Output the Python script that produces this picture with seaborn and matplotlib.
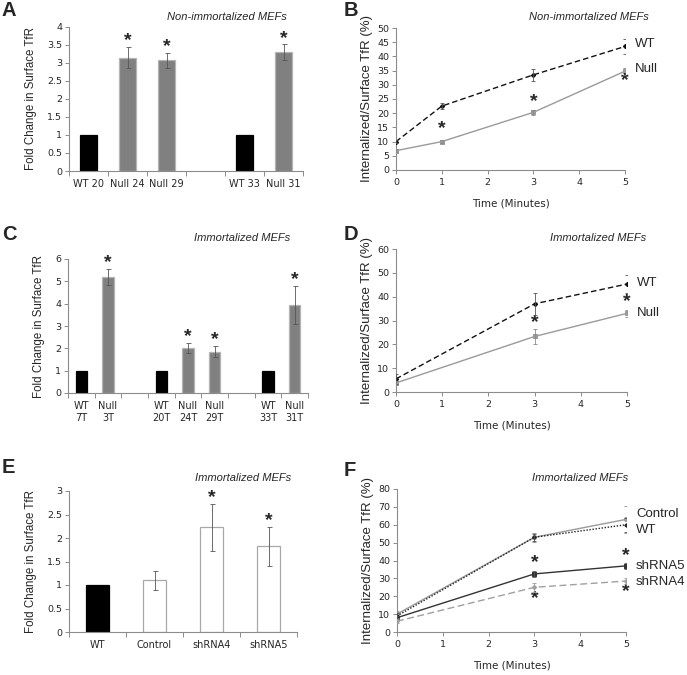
import numpy as np
import pandas as pd
import matplotlib
matplotlib.use("Agg")
import matplotlib.pyplot as plt
import seaborn as sns

# ---- data -------------------------------------------------------------
# Panel A: non-immortalized MEFs, surface TfR
a_order = ["WT 20", "Null 24", "Null 29", "", "WT 33", "Null 31"]
a_labels = ["WT 20", "Null 24", "Null 29", "WT 33", "Null 31"]
a_values = [1.0, 3.15, 3.07, 1.0, 3.3]
a_errors = [0.0, 0.30, 0.21, 0.0, 0.22]
a_star = [False, True, True, False, True]

# Panel B: internalization, non-immortalized
b_time = [0, 1, 3, 5]
b_wt = [10.0, 22.5, 33.5, 43.5]
b_wt_err = [0.5, 1.0, 2.2, 2.8]
b_null = [6.8, 10.0, 20.3, 34.8]
b_null_err = [0.5, 0.6, 1.0, 1.2]
b_star_x = [1, 3, 5]
b_star_y = [14.5, 24.0, 31.5]

# Panel C: immortalized MEFs, surface TfR
c_order = ["WT\n7T", "Null\n3T", " ", "WT\n20T", "Null\n24T", "Null\n29T", "  ",
           "WT\n33T", "Null\n31T"]
c_labels = ["WT\n7T", "Null\n3T", "WT\n20T", "Null\n24T", "Null\n29T", "WT\n33T", "Null\n31T"]
c_values = [1.0, 5.2, 1.0, 2.0, 1.85, 1.0, 3.95]
c_errors = [0.0, 0.36, 0.0, 0.22, 0.25, 0.0, 0.85]
c_star = [False, True, False, True, True, False, True]

# Panel D: internalization, immortalized
d_time = [0, 3, 5]
d_wt = [5.5, 37.0, 45.3]
d_wt_err = [2.0, 4.5, 3.7]
d_null = [3.8, 23.3, 33.0]
d_null_err = [1.0, 3.0, 1.5]
d_star_x = [3, 5]
d_star_y = [29.0, 37.8]

# Panel E: shRNA knockdown, surface TfR
e_labels = ["WT", "Control", "shRNA4", "shRNA5"]
e_values = [1.0, 1.1, 2.23, 1.82]
e_errors = [0.0, 0.2, 0.5, 0.41]
e_star = [False, False, True, True]

# Panel F: internalization, shRNA knockdown
f_time = [0, 3, 5]
f_control = [10.0, 53.0, 63.0]
f_control_err = [2.0, 2.5, 7.5]
f_wt = [9.0, 53.0, 60.0]
f_wt_err = [1.5, 2.0, 4.0]
f_sh5 = [8.0, 32.5, 37.0]
f_sh5_err = [1.0, 1.5, 1.5]
f_sh4 = [6.0, 25.0, 28.5]
f_sh4_err = [1.0, 2.5, 1.8]
f_star_x = [3, 3, 5, 5]
f_star_y = [38.7, 18.5, 42.5, 22.5]

# ---- style ------------------------------------------------------------
sns.set_style("white")
plt.rcParams["font.family"] = ["DejaVu Sans"]
LABEL_FONT = "Liberation Sans"
AXIS_COLOR = "#8c8c8c"
ERR_COLOR = "#555555"

fig = plt.figure(figsize=(6.87, 6.75), dpi=100)


def axes_px(left, top, right, bottom):
    W, H = 687, 675
    return fig.add_axes([left / W, 1 - bottom / H, (right - left) / W, (bottom - top) / H])


def style_axes(ax):
    sns.despine(ax=ax)
    for s in ("left", "bottom"):
        ax.spines[s].set_color(AXIS_COLOR)
        ax.spines[s].set_linewidth(0.8)
    ax.tick_params(axis="y", which="both", length=3, width=0.7, color=AXIS_COLOR,
                   labelsize=6.8, pad=2, direction="out", left=True)


def bar_panel(ax, order, labels, values, errors, stars, colors, edges, ymax, ystep, star_off):
    df = pd.DataFrame({"label": labels, "value": values})
    sns.barplot(data=df, x="label", y="value", order=order, hue="label",
                palette=dict(zip(labels, colors)), width=0.42, ax=ax, legend=False,
                errorbar=None, saturation=1)
    # edge colours per bar
    for lab, ec in zip(labels, edges):
        idx = order.index(lab)
        for p in ax.patches:
            if abs(p.get_x() + p.get_width() / 2 - idx) < 1e-6:
                p.set_edgecolor(ec)
                p.set_linewidth(0.9)
    for lab, v, e, st in zip(labels, values, errors, stars):
        idx = order.index(lab)
        if e > 0:
            ax.errorbar(idx, v, yerr=e, fmt="none", ecolor=ERR_COLOR, elinewidth=0.6,
                        capsize=1.8, capthick=0.6, zorder=5)
        if st:
            ax.text(idx, v + e + star_off, "*", ha="center", va="center",
                    fontsize=14, fontweight="bold", family=LABEL_FONT)
    n = len(order)
    ax.set_xlim(-0.5, n - 0.5)
    ax.set_ylim(0, ymax)
    ax.set_yticks(np.arange(0, ymax + ystep / 2, ystep))
    ax.set_yticklabels([f"{t:g}" for t in np.arange(0, ymax + ystep / 2, ystep)])
    ax.set_xticks(range(n))
    ax.set_xticklabels(order, fontsize=7)
    ax.set_xticks(np.arange(-0.5, n), minor=True)
    ax.tick_params(axis="x", which="major", length=0, pad=6, bottom=True)
    ax.tick_params(axis="x", which="minor", length=3.5, width=0.7, color=AXIS_COLOR,
                   direction="out", bottom=True)
    ax.set_xlabel("")
    ax.set_ylabel("Fold Change in Surface TfR", family=LABEL_FONT, fontsize=8.3, labelpad=7)
    style_axes(ax)


def line_panel(ax, time, series, ymax, ystep, star_x, star_y, line_labels):
    for s in series:
        sns.lineplot(x=time, y=s["y"], ax=ax, color=s["color"], linestyle=s["ls"],
                     linewidth=s.get("lw", 1.0), marker=s["marker"], markersize=s["ms"],
                     markeredgecolor=s["color"], errorbar=None, zorder=s.get("z", 3))
        ax.errorbar(time, s["y"], yerr=s["err"], fmt="none", ecolor=s.get("ecolor", ERR_COLOR),
                    elinewidth=0.6, capsize=1.5, capthick=0.6, zorder=4)
    for x, y in zip(star_x, star_y):
        ax.text(x, y, "*", ha="center", va="center", fontsize=14, fontweight="bold",
                family=LABEL_FONT)
    for txt, y in line_labels:
        ax.text(5.22, y, txt, ha="left", va="center", fontsize=9.5, family=LABEL_FONT,
                clip_on=False)
    ax.set_xlim(0, 5)
    ax.set_ylim(0, ymax)
    ax.set_yticks(np.arange(0, ymax + 1, ystep))
    ax.set_xticks(range(6))
    ax.tick_params(axis="x", which="major", length=3, width=0.7, color=AXIS_COLOR,
                   direction="out", labelsize=6.8, pad=3, bottom=True)
    ax.set_xlabel("Time (Minutes)", fontsize=7.5, labelpad=8)
    ax.set_ylabel("Internalized/Surface TfR (%)", family=LABEL_FONT, fontsize=9.5, labelpad=3)
    style_axes(ax)


def title(x, y, txt):
    fig.text(x / 687, 1 - y / 675, txt, ha="center", va="center", style="italic",
             fontsize=8, family=LABEL_FONT)


def letter(x, y, txt):
    fig.text(x / 687, 1 - y / 675, txt, ha="left", va="top", fontweight="bold",
             fontsize=14.5, family=LABEL_FONT)


# ---- A ----------------------------------------------------------------
axA = axes_px(69, 27, 303, 171)
bar_panel(axA, a_order, a_labels, a_values, a_errors, a_star,
          ["#000000", "#808080", "#808080", "#000000", "#808080"],
          ["#000000", "#b5b5b5", "#b5b5b5", "#000000", "#b5b5b5"], 4, 0.5, 0.17)

# ---- B ----------------------------------------------------------------
axB = axes_px(396, 28, 625, 170)
line_panel(axB, b_time, [
    dict(y=b_wt, err=b_wt_err, color="#111111", ls=(0, (4, 2.2)), marker="D", ms=2.2, z=4),
    dict(y=b_null, err=b_null_err, color="#9a9a9a", ls="-", marker="s", ms=2.5,
         ecolor="#8a8a8a"),
], 50, 5, b_star_x, b_star_y, [("WT", 44.5), ("Null", 35.5)])

# ---- C ----------------------------------------------------------------
axC = axes_px(68, 259, 308, 393)
c_col = ["#000000" if l.startswith("WT") else "#808080" for l in c_labels]
c_edge = ["#000000" if l.startswith("WT") else "#b5b5b5" for l in c_labels]
bar_panel(axC, c_order, c_labels, c_values, c_errors, c_star, c_col, c_edge, 6, 1, 0.3)

# ---- D ----------------------------------------------------------------
axD = axes_px(396, 249, 627, 392)
line_panel(axD, d_time, [
    dict(y=d_wt, err=d_wt_err, color="#111111", ls=(0, (4, 2.2)), marker="D", ms=2.2, z=4),
    dict(y=d_null, err=d_null_err, color="#9a9a9a", ls="-", marker="s", ms=2.5,
         ecolor="#8a8a8a"),
], 60, 10, d_star_x, d_star_y, [("WT", 45.7), ("Null", 33.1)])

# ---- E ----------------------------------------------------------------
axE = axes_px(69, 491, 297, 632)
bar_panel(axE, e_labels, e_labels, e_values, e_errors, e_star,
          ["#000000", "#ffffff", "#ffffff", "#ffffff"],
          ["#000000", "#a8a8a8", "#a8a8a8", "#a8a8a8"], 3, 0.5, 0.14)

# ---- F ----------------------------------------------------------------
axF = axes_px(397, 489, 626, 632)
line_panel(axF, f_time, [
    dict(y=f_control, err=f_control_err, color="#9a9a9a", ls="-", marker="o", ms=3,
         ecolor="#8a8a8a"),
    dict(y=f_wt, err=f_wt_err, color="#222222", ls=(0, (1, 1.2)), marker="D", ms=1.8, z=4),
    dict(y=f_sh5, err=f_sh5_err, color="#333333", ls="-", marker="s", ms=2.8),
    dict(y=f_sh4, err=f_sh4_err, color="#a0a0a0", ls=(0, (5, 2.5)), marker="D", ms=2.2,
         ecolor="#9a9a9a"),
], 80, 10, f_star_x, f_star_y,
    [("Control", 66.0), ("WT", 57.0), ("shRNA5", 37.0), ("shRNA4", 27.7)])

# ---- titles and letters -----------------------------------------------
title(227, 17, "Non-immortalized MEFs")
title(589, 17, "Non-immortalized MEFs")
title(242, 238, "Immortalized MEFs")
title(598, 238, "Immortalized MEFs")
title(243, 478, "Immortalized MEFs")
title(580, 478, "Immortalized MEFs")
letter(2, 1, "A")
letter(344, 1, "B")
letter(2, 225, "C")
letter(344, 225, "D")
letter(2, 458, "E")
letter(344, 461, "F")

fig.savefig("out.png", dpi=100)
